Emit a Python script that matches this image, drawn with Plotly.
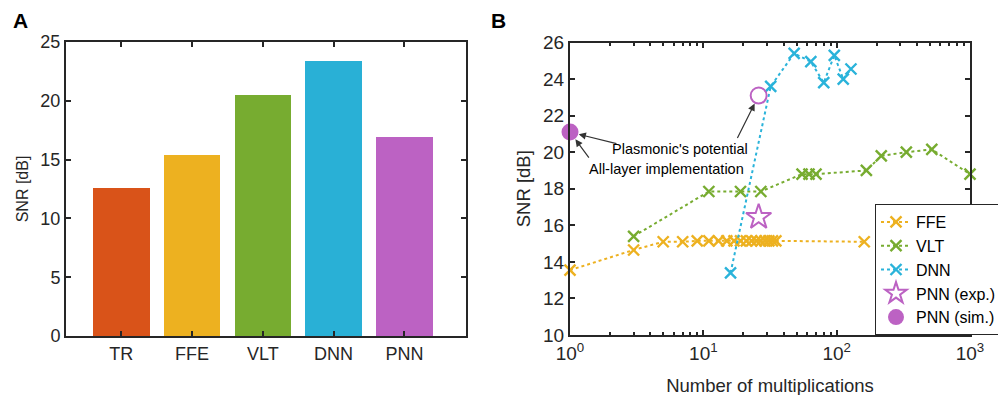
import plotly.graph_objects as go
import math

# ---------------- data ----------------
bar_cats = ["TR", "FFE", "VLT", "DNN", "PNN"]
bar_vals = [12.6, 15.4, 20.5, 23.4, 16.9]
bar_colors = ["#D95319", "#EDB120", "#77AC30", "#29B0D6", "#BC62C3"]

ffe_x = [1, 3, 5, 7, 9, 11, 13, 15, 17, 19, 21, 23, 25, 27, 29, 31, 33, 35, 161]
ffe_y = [13.55, 14.65, 15.1, 15.1, 15.15, 15.15, 15.15, 15.15, 15.15, 15.15,
         15.15, 15.15, 15.15, 15.15, 15.15, 15.15, 15.15, 15.15, 15.1]

vlt_x = [3, 11, 19, 27, 55, 62, 70, 167, 216, 333, 517, 1000]
vlt_y = [15.4, 17.85, 17.85, 17.85, 18.8, 18.8, 18.8, 19.0, 19.8, 20.0, 20.15, 18.8]

dnn_x = [16, 32, 48, 64, 80, 96, 112, 128]
dnn_y = [13.4, 23.6, 25.4, 24.95, 23.8, 25.3, 24.0, 24.55]

pnn_exp_x = [26]
pnn_exp_y = [16.45]

pnn_sim_x = [1]
pnn_sim_y = [21.1]
pnn_pot_x = [26]
pnn_pot_y = [23.1]

b_yticks = [10, 12, 14, 16, 18, 20, 22, 24, 26]
b_xticks = [1, 10, 100, 1000]
b_xticktext = ["10<sup>0</sup>", "10<sup>1</sup>", "10<sup>2</sup>", "10<sup>3</sup>"]

C_FFE = "#EDB120"
C_VLT = "#77AC30"
C_DNN = "#2AB3DA"
C_PNN = "#BC62C3"
AX = "#262626"
FONT = "Liberation Sans, Arial, sans-serif"

W, H = 1006, 395
OFF = 8  # page body margin offset
def px_x(p):
    return (p - OFF) / W
def px_y(p):
    return 1 - (p - OFF) / H

fig = go.Figure()

# ---------------- panel A ----------------
fig.add_trace(go.Bar(
    x=list(range(1, len(bar_cats) + 1)), y=bar_vals,
    marker=dict(color=bar_colors, line=dict(width=0)),
    width=0.8, showlegend=False, xaxis="x", yaxis="y",
))

# ---------------- panel B ----------------
line_common = dict(width=2, dash="dot")
def xmark(color):
    return dict(symbol="x-thin", size=11, color=color, line=dict(width=2.4, color=color))

fig.add_trace(go.Scatter(x=ffe_x, y=ffe_y, mode="lines+markers", name="FFE",
                         line=dict(color=C_FFE, **line_common), marker=xmark(C_FFE),
                         cliponaxis=False, xaxis="x2", yaxis="y2"))
fig.add_trace(go.Scatter(x=vlt_x, y=vlt_y, mode="lines+markers", name="VLT",
                         line=dict(color=C_VLT, **line_common), marker=xmark(C_VLT),
                         cliponaxis=False, xaxis="x2", yaxis="y2"))
fig.add_trace(go.Scatter(x=dnn_x, y=dnn_y, mode="lines+markers", name="DNN",
                         line=dict(color=C_DNN, **line_common), marker=xmark(C_DNN),
                         xaxis="x2", yaxis="y2"))
fig.add_trace(go.Scatter(x=pnn_exp_x, y=pnn_exp_y, mode="markers", name="PNN (exp.)",
                         marker=dict(symbol="star-open", size=19, color=C_PNN,
                                     line=dict(width=2, color=C_PNN)),
                         xaxis="x2", yaxis="y2"))
fig.add_trace(go.Scatter(x=pnn_sim_x, y=pnn_sim_y, mode="markers", name="PNN (sim.)",
                         marker=dict(symbol="circle", size=17, color=C_PNN,
                                     line=dict(width=0)),
                         cliponaxis=False, xaxis="x2", yaxis="y2"))
fig.add_trace(go.Scatter(x=pnn_pot_x, y=pnn_pot_y, mode="markers", showlegend=False,
                         marker=dict(symbol="circle-open", size=16, color=C_PNN,
                                     line=dict(width=2, color=C_PNN)),
                         xaxis="x2", yaxis="y2"))

# ---------------- annotations ----------------
ann = []
ann.append(dict(text="<b>A</b>", x=px_x(20), y=px_y(20), xref="paper", yref="paper",
                xanchor="center", yanchor="middle",
                showarrow=False, font=dict(size=21, color="black", family=FONT)))
ann.append(dict(text="<b>B</b>", x=px_x(498), y=px_y(20), xref="paper", yref="paper",
                xanchor="center", yanchor="middle",
                showarrow=False, font=dict(size=21, color="black", family=FONT)))

txt_font = dict(size=14.5, color="black", family=FONT)
ann.append(dict(text="Plasmonic's potential", x=(680 - 570) / 133.6, y=20.2,
                xref="x2", yref="y2", showarrow=False, font=txt_font))
ann.append(dict(text="All-layer implementation", x=(667 - 570) / 133.6, y=19.1,
                xref="x2", yref="y2", showarrow=False, font=txt_font))
arrow_style = dict(showarrow=True, arrowhead=2, arrowsize=1.2, arrowwidth=1.2,
                   arrowcolor="#333333", standoff=9, text="", xref="x2", yref="y2")
ann.append(dict(x=math.log10(pnn_sim_x[0]), y=pnn_sim_y[0], ax=48, ay=12, **arrow_style))
ann.append(dict(x=math.log10(pnn_sim_x[0]), y=pnn_sim_y[0], ax=20, ay=27, **arrow_style))
ann.append(dict(x=math.log10(pnn_pot_x[0]), y=pnn_pot_y[0], ax=-22, ay=44, **arrow_style))

axis_common = dict(showline=True, linecolor=AX, linewidth=2, mirror="ticks",
                   ticks="inside", tickcolor=AX, tickwidth=1.5, ticklen=5,
                   showgrid=False, zeroline=False, automargin=False)

fig.update_layout(
    width=W, height=H,
    margin=dict(l=0, r=0, t=0, b=0, autoexpand=False),
    paper_bgcolor="white", plot_bgcolor="white",
    font=dict(family=FONT, color="#262626"),
    bargap=0,
    xaxis=dict(domain=[px_x(66), px_x(466)], range=[0.22, 5.87],
               tickvals=list(range(1, len(bar_cats) + 1)), ticktext=bar_cats,
               tickfont=dict(size=18), anchor="y", **axis_common),
    yaxis=dict(domain=[px_y(336), px_y(42)], range=[0, 25], tickvals=[0, 5, 10, 15, 20, 25],
               tickfont=dict(size=18), anchor="x",
               title=dict(text="SNR [dB]", font=dict(size=16), standoff=8), **axis_common),
    xaxis2=dict(domain=[px_x(570), px_x(970)], type="log", range=[0, 3],
                tickvals=b_xticks, ticktext=b_xticktext, tickfont=dict(size=19),
                minor=dict(ticks="inside", ticklen=3, tickcolor=AX, tickwidth=1.5, dtick="D1"),
                title=dict(text="Number of multiplications", font=dict(size=18.5), standoff=16),
                anchor="y2", **axis_common),
    yaxis2=dict(domain=[px_y(335), px_y(42.5)], range=[10, 26], tickvals=b_yticks,
                tickfont=dict(size=19), anchor="x2",
                title=dict(text="SNR [dB]", font=dict(size=18.5), standoff=8), **axis_common),
    legend=dict(x=px_x(875), y=px_y(204), xanchor="left", yanchor="top",
                bordercolor=AX, borderwidth=1, bgcolor="white",
                font=dict(size=16, color="black", family=FONT),
                tracegroupgap=0, itemwidth=30),
    annotations=ann,
)

fig.write_html("out.html")
